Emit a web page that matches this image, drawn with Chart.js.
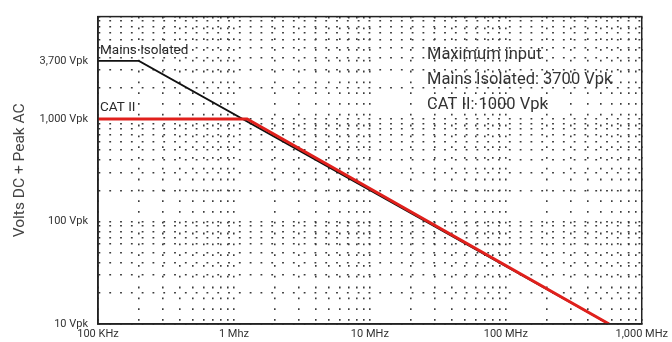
<!DOCTYPE html>
<html><head><meta charset="utf-8">
<script src="https://cdn.jsdelivr.net/npm/chart.js@4/dist/chart.umd.min.js"></script>
<style>html,body{margin:0;padding:0;background:#fff}#wrap{width:672px;height:342px}</style>
</head><body><div id="wrap"><canvas id="c"></canvas></div>
<script>
// Frequencies in Hz, voltages in Vpk
const mainsFreq = [1e5, 2.0e5, 5.75e8];
const mainsVolts = [3700, 3700, 10];
const catFreq = [1e5, 1.25e6, 5.75e8];
const catVolts = [1000, 1000, 10];
const xTickValues = [1e5, 1e6, 1e7, 1e8, 1e9];
const xTickLabels = ['100 KHz', '1 Mhz', '10 MHz', '100 MHz', '1,000 MHz'];
const yTickValues = [10, 100, 1000, 3700];
const yTickLabels = ['10 Vpk', '100 Vpk', '1,000 Vpk', '3,700 Vpk'];
const infoLines = ['Maximum input', 'Mains Isolated: 3700 Vpk', 'CAT II: 1000 Vpk'];
const seriesLabels = ['Mains Isolated', 'CAT II'];

function minorTicks(lo, hi) {
  const out = [];
  for (let d = lo; d < hi; d *= 10) for (let m = 1; m < 10; m++) out.push(d * m);
  out.push(hi);
  return out;
}
const toPts = (xs, ys) => xs.map((x, i) => ({x, y: ys[i]}));

const gridColor = ctx => (ctx.tick && ctx.tick.value === 3700) ? 'rgba(0,0,0,0)' : '#3a3a3a';

const frame = {
  id: 'frame',
  afterDatasetsDraw(chart) {
    const {ctx, chartArea: a} = chart;
    ctx.save();
    ctx.strokeStyle = '#222'; ctx.lineWidth = 1.5;
    ctx.strokeRect(a.left, a.top, a.right - a.left, a.bottom - a.top);
    const xs = chart.scales.x, ys = chart.scales.y;
    ctx.fillStyle = '#2a2a2a';
    ctx.font = '13.5px Roboto';
    ctx.textBaseline = 'middle';
    ctx.textAlign = 'left';
    ctx.fillText(seriesLabels[0], xs.getPixelForValue(1e5) + 2, ys.getPixelForValue(3700) - 10);
    ctx.fillText(seriesLabels[1], xs.getPixelForValue(1e5) + 2, ys.getPixelForValue(1000) - 11);
    ctx.fillStyle = '#333';
    ctx.font = '16.5px Roboto';
    const x0 = 427;
    [55, 80, 105].forEach((y, i) => ctx.fillText(infoLines[i], x0, y));
    ctx.restore();
  }
};

new Chart(document.getElementById('c'), {
  type: 'line',
  data: {
    datasets: [
      {label: seriesLabels[1], data: toPts(catFreq, catVolts), borderColor: '#e0201c', borderWidth: 3, pointRadius: 0, tension: 0},
      {label: seriesLabels[0], data: toPts(mainsFreq, mainsVolts), borderColor: '#111', borderWidth: 1.8, pointRadius: 0, tension: 0}
    ]
  },
  options: {
    responsive: true, maintainAspectRatio: false, animation: false,
    layout: {padding: {top: 13, right: 27, left: 0, bottom: 0}},
    plugins: {legend: {display: false}, tooltip: {enabled: false}},
    scales: {
      x: {
        type: 'logarithmic', min: 1e5, max: 1e9,
        afterBuildTicks: s => { s.ticks = minorTicks(1e5, 1e9).map(v => ({value: v})); },
        afterFit: s => { s.height = 18; },
        ticks: {autoSkip: false, maxRotation: 0, padding: 4, color: '#333', font: {family: 'Roboto', size: 11},
          callback: v => { const i = xTickValues.indexOf(v); return i >= 0 ? xTickLabels[i] : ''; }},
        grid: {color: '#3a3a3a', lineWidth: 1.6, drawTicks: false},
        border: {display: true, color: '#222', width: 1.5, dash: [1.8, 9]}
      },
      y: {
        type: 'logarithmic', min: 10, max: 10000,
        afterBuildTicks: s => { s.ticks = minorTicks(10, 10000).concat([3700]).sort((a, b) => a - b).map(v => ({value: v})); },
        afterFit: s => { s.width = 98; },
        title: {display: true, text: 'Volts DC + Peak AC', color: '#444', font: {family: 'Roboto', size: 15.5}, padding: {top: 11, bottom: 0}},
        ticks: {autoSkip: false, padding: 10, color: '#333', font: {family: 'Roboto', size: 11},
          callback: v => { const i = yTickValues.indexOf(v); return i >= 0 ? yTickLabels[i] : ''; }},
        grid: {color: gridColor, lineWidth: 1.6, drawTicks: false},
        border: {display: true, color: '#222', width: 1.5, dash: [1.8, 9]}
      }
    }
  },
  plugins: [frame]
});
</script></body></html>
